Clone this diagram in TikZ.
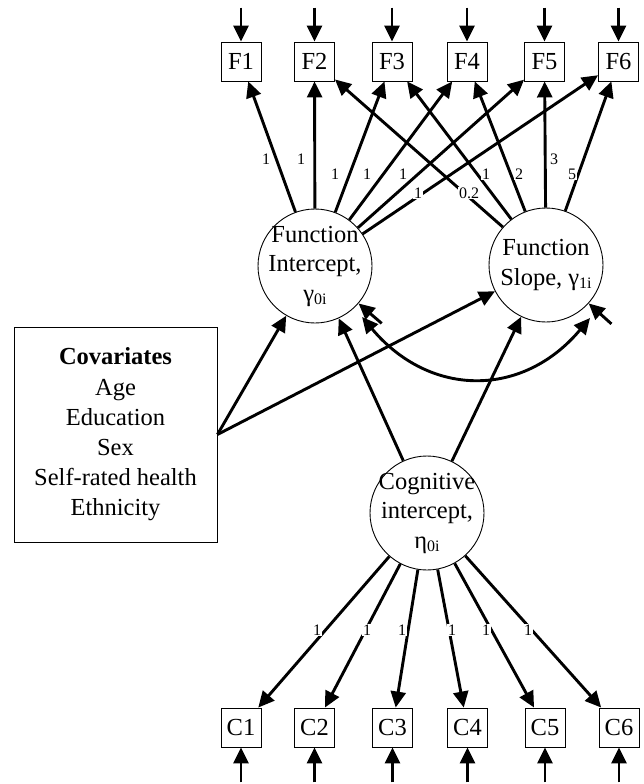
\documentclass[tikz,border=0pt]{standalone}
\usepackage{fontspec}
\setmainfont{Liberation Serif}
\usetikzlibrary{arrows.meta,calc}
\newcommand\lsub[1]{\raisebox{-3.5pt}{\fontsize{16}{16}\selectfont #1}}
\begin{document}
\begin{tikzpicture}[x=1pt,y=1pt,
  tipA/.tip={Triangle[length=16pt,width=15pt]},
  arr/.style={line width=2.9pt, -tipA},
  darr/.style={line width=2.9pt, tipA-tipA},
  obs/.style={draw, line width=0.9pt, minimum width=40pt, minimum height=39pt, inner sep=0pt, font=\fontsize{24.5}{30}\selectfont},
  lat/.style={draw, circle, line width=0.9pt, minimum size=114pt, inner sep=-40pt, align=center, font=\fontsize{24.5}{29.5}\selectfont},
  covbox/.style={draw, line width=0.9pt, minimum width=203pt, minimum height=215pt, align=center, font=\fontsize{24.5}{30.2}\selectfont},
  lbl/.style={fill=white, inner sep=0.8pt, font=\fontsize{16}{16}\selectfont},
]
\useasboundingbox (0,0) rectangle (643,-784);

% observed indicators
\node[obs] (F1) at (241,-61.5) {F1};
\node[obs] (F2) at (314.5,-61.5) {F2};
\node[obs] (F3) at (392,-61.5) {F3};
\node[obs] (F4) at (467,-61.5) {F4};
\node[obs] (F5) at (544.5,-61.5) {F5};
\node[obs] (F6) at (618.5,-61.5) {F6};
\node[obs] (C1) at (241,-727.5) {C1};
\node[obs] (C2) at (314.5,-727.5) {C2};
\node[obs] (C3) at (392.5,-727.5) {C3};
\node[obs] (C4) at (467.5,-727.5) {C4};
\node[obs] (C5) at (545,-727.5) {C5};
\node[obs] (C6) at (619,-727.5) {C6};

% latent variables
\node[lat] (FI) at (315,-266) {Function\\Intercept,\\γ\lsub{0i}};
\node[lat] (FS) at (546,-265) {Function\\Slope, γ\lsub{1i}};
\node[lat] (CG) at (427,-513) {Cognitive\\intercept,\\η\lsub{0i}};

% covariates
\node[covbox] (COV) at (115.5,-434.5) {\textbf{Covariates}\\Age\\Education\\Sex\\Self-rated health\\Ethnicity};

% residual arrows on indicators
\foreach \n in {1,...,6} {
  \coordinate (fin\n) at ($(F\n.north)+(0,34)$);
  \draw[arr] (fin\n) -- (F\n);
  \coordinate (cin\n) at ($(C\n.south)+(0,-35)$);
  \draw[arr] (cin\n) -- (C\n);
}

% loadings
\foreach \n in {1,...,6} \draw[arr] (FI) -- (F\n);
\foreach \n in {2,...,6} \draw[arr] (FS) -- (F\n);
\foreach \n in {1,...,6} \draw[arr] (CG) -- (C\n);

% structural paths
\draw[arr] (COV.east) -- (FI);
\draw[arr] (COV.east) -- (FS);
\draw[arr] (CG) -- (FI);
\draw[arr] (CG) -- (FS);

% disturbances
\coordinate (rFI) at ($(FI)+(-40.7:88)$);
\coordinate (rFS) at ($(FS)+(-42:88)$);
\draw[arr] (rFI) -- (FI);
\draw[arr] (rFS) -- (FS);

% covariance
\coordinate (cvA) at ($(FI)+(-47.3:69.4)$);
\coordinate (cvB) at ($(FS)+(-50.3:68.9)$);
\draw[darr] (cvA) .. controls +(-50:105) and +(-130:105) .. (cvB);

% loading labels
\node[lbl] (a1) at (266,-159) {1};
\node[lbl] (a2) at (301,-159) {1};
\node[lbl] (a3) at (335,-174) {1};
\node[lbl] (a4) at (367,-174) {1};
\node[lbl] (a5) at (403,-174) {1};
\node[lbl] (a6) at (418,-193) {1};
\node[lbl] (b2) at (469,-193) {0.2};
\node[lbl] (b3) at (486,-174) {1};
\node[lbl] (b4) at (519,-174) {2};
\node[lbl] (b5) at (554,-159) {3};
\node[lbl] (b6) at (572,-174) {5};
\node[lbl] (c1) at (317,-630) {1};
\node[lbl] (c2) at (367,-630) {1};
\node[lbl] (c3) at (402,-630) {1};
\node[lbl] (c4) at (452,-630) {1};
\node[lbl] (c5) at (486,-630) {1};
\node[lbl] (c6) at (528,-630) {1};
\end{tikzpicture}
\end{document}
